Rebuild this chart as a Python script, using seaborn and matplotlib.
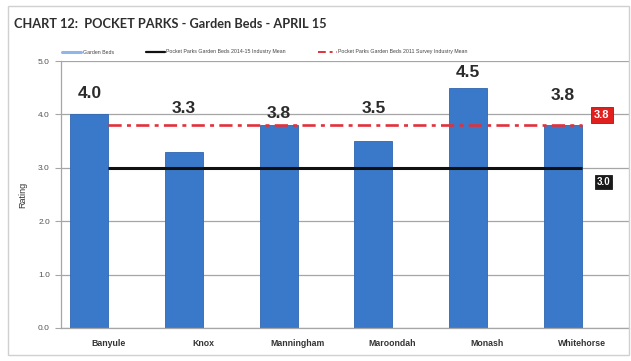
import matplotlib
matplotlib.use("Agg")
import matplotlib.pyplot as plt
from matplotlib.lines import Line2D
from matplotlib.patches import Rectangle
import numpy as np
import pandas as pd
import seaborn as sns

# --- data -----------------------------------------------------------------
councils = ["Banyule", "Knox", "Manningham", "Maroondah", "Monash", "Whitehorse"]
garden_beds = [4.0, 3.3, 3.8, 3.5, 4.5, 3.8]
mean_2014_15 = 3.0
mean_survey = 3.8
y_ticks = [0.0, 1.0, 2.0, 3.0, 4.0, 5.0]

series_main = "Garden Beds"
series_spacer = "spacer"
legend_labels = [
    "Garden Beds",
    "Pocket Parks Garden Beds 2014-15 Industry Mean",
    "Pocket Parks Garden Beds 2011 Survey Industry Mean",
]
title = "CHART 12:  POCKET PARKS - Garden Beds - APRIL 15"

# vertical lift (pixels) of each value label above its bar
label_lift = [16, 39, 7, 28, 11, 25]

# --- styling ----------------------------------------------------------------
sns.set_theme(style="white")
plt.rcParams["font.family"] = ["Liberation Sans", "DejaVu Sans"]

bar_blue = "#3a78c9"
mean_black = "#111111"
mean_red = "#e2313b"
grid_grey = "#a6a6a6"

df = pd.DataFrame({"council": councils, "rating": garden_beds, "series": series_main})

fig = plt.figure(figsize=(6.31, 3.61), dpi=100)
ax = fig.add_axes([61 / 631, 33 / 361, 568 / 631, 267 / 361])

# bars sit in the left half of each category slot, like a two-series cluster
sns.barplot(
    data=df, x="council", y="rating", hue="series",
    hue_order=[series_main, series_spacer],
    palette={series_main: bar_blue, series_spacer: "white"},
    width=0.8, dodge=True, saturation=1, legend=False,
    edgecolor="#2f66b0", linewidth=0.6, ax=ax,
)

# industry means as flat lines through the category centres
xs = np.arange(len(councils))
ax.plot(xs, np.full(len(councils), mean_2014_15), color=mean_black, lw=2.2,
        solid_capstyle="butt", zorder=4)
ax.plot(xs, np.full(len(councils), mean_survey), color=mean_red, lw=1.9,
        dashes=(5, 2, 1.5, 2), zorder=4)

# value labels above the bars
for i, (v, lift) in enumerate(zip(garden_beds, label_lift)):
    ax.annotate(f"{v:.1f}", xy=(i - 0.2, v), xytext=(0, lift),
                textcoords="offset pixels", ha="center", va="baseline",
                fontsize=12.5, fontweight="bold", color="#2b2b2b", zorder=6)

# boxed mean values just past the right end of the lines
ax.annotate(f"{mean_survey:.1f}", xy=(xs[-1], mean_survey), xytext=(20, 10),
            textcoords="offset pixels", ha="center", va="center",
            fontsize=8, fontweight="bold", color="white", zorder=7,
            bbox=dict(boxstyle="square,pad=0.3", fc="#e0201e", ec="#b01010", lw=0.6))
ax.annotate(f"{mean_2014_15:.1f}", xy=(xs[-1], mean_2014_15), xytext=(22, -14),
            textcoords="offset pixels", ha="center", va="center",
            fontsize=7, fontweight="bold", color="white", zorder=7,
            bbox=dict(boxstyle="square,pad=0.2", fc="#1a1a1a", ec="#1a1a1a", lw=0.6))

# axes
ax.set_xlim(-0.5, len(councils) - 0.5)
ax.set_ylim(0, 5)
ax.set_yticks(y_ticks)
ax.set_yticklabels([f"{t:.1f}" for t in y_ticks], fontsize=6, color="#555555")
ax.set_xticks(xs)
ax.set_xticklabels(councils, fontsize=6.3, color="#333333", fontweight="bold")
ax.set_xlabel("")
ax.set_ylabel("Rating", fontsize=6.5, color="#333333", labelpad=8)
ax.yaxis.grid(True, color=grid_grey, lw=0.9)
ax.set_axisbelow(True)
for side in ["top", "right"]:
    ax.spines[side].set_visible(False)
ax.spines["left"].set_color(grid_grey)
ax.spines["bottom"].set_color(grid_grey)
ax.spines["left"].set_linewidth(0.9)
ax.spines["bottom"].set_linewidth(0.9)
ax.tick_params(axis="y", left=True, length=4, color=grid_grey, width=0.8, pad=4)
ax.tick_params(axis="x", bottom=False, pad=2)

# legend along the top
handles = [
    Line2D([], [], color="#8fb6e6", lw=2.2),
    Line2D([], [], color=mean_black, lw=1.6),
    Line2D([], [], color=mean_red, lw=1.4, dashes=(4, 2, 1.5, 2)),
]
fig.legend(handles, legend_labels, loc="center", bbox_to_anchor=(265 / 631, 1 - 52 / 361),
           ncol=3, frameon=False, fontsize=3.8, handlelength=3.6, handletextpad=0.3,
           columnspacing=6, labelcolor="#444444")

# title
fig.text(14 / 631, 1 - 24 / 361, title, fontsize=9.2, color="#2e2e2e",
         ha="left", va="center", family=["Lato", "DejaVu Sans"], fontweight="bold")

# outer chart border
fig.patches.append(Rectangle((8 / 631, 6 / 361), 621 / 631, 349 / 361,
                             transform=fig.transFigure, fill=False,
                             ec="#d0d0d0", lw=1.0))

fig.savefig("out.png", dpi=100)
